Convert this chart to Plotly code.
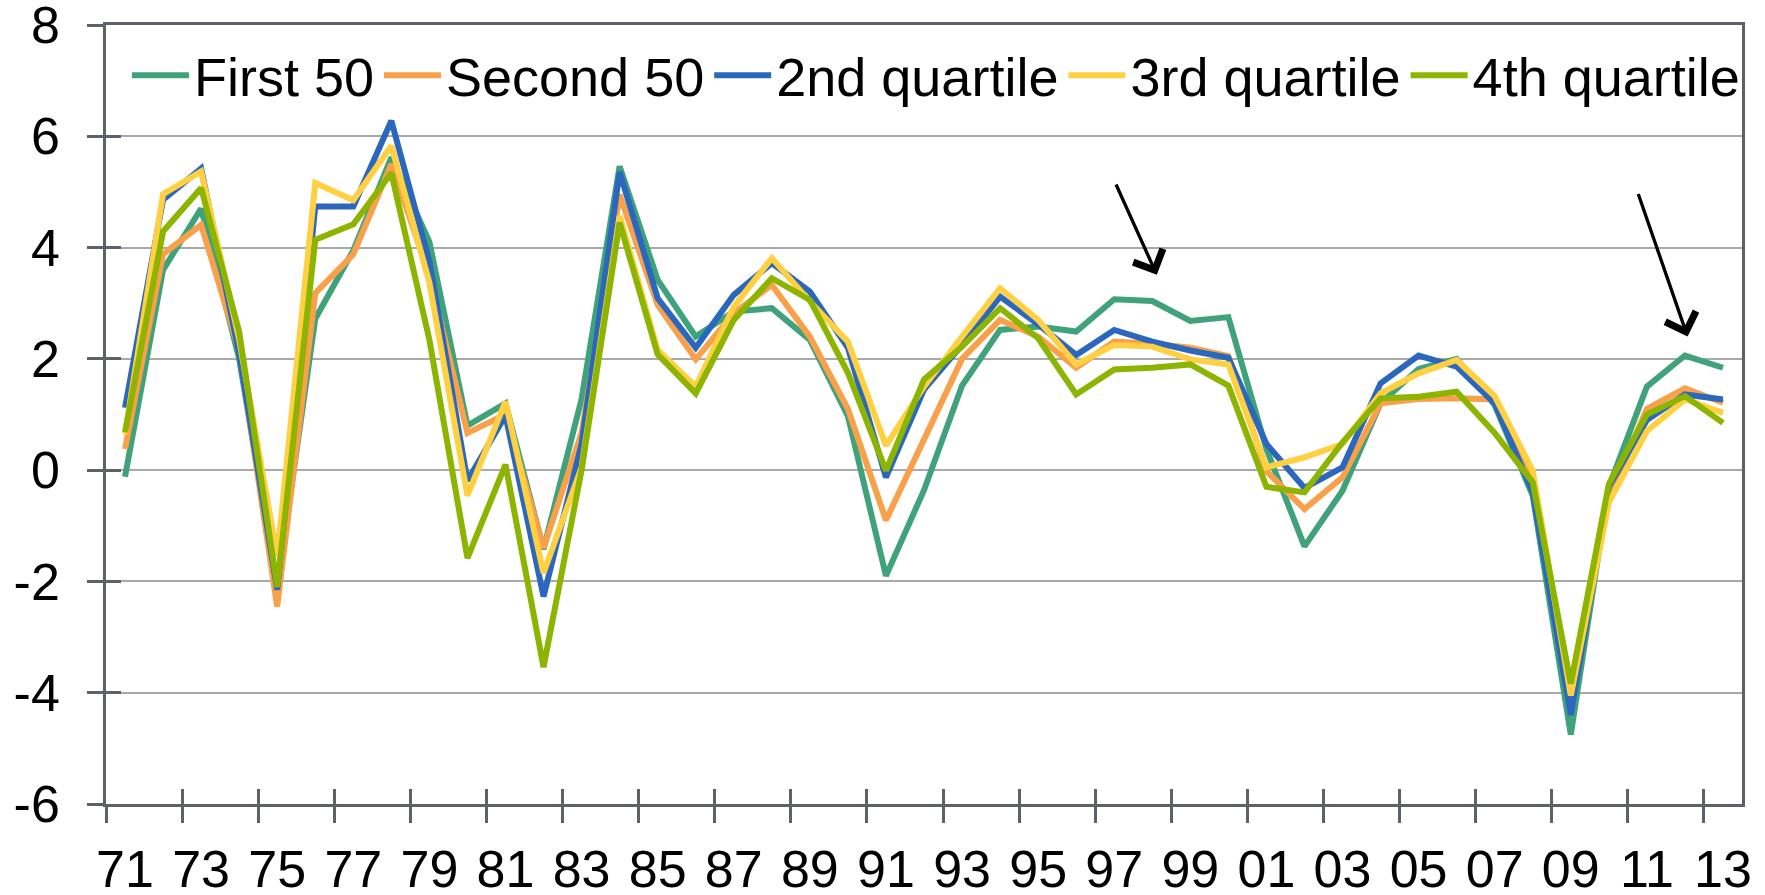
import plotly.graph_objects as go

# ---------------- data ----------------
years = list(range(1971, 2014))
label_years = list(range(1971, 2014, 2))
tick_labels = ["71", "73", "75", "77", "79", "81", "83", "85", "87", "89", "91",
               "93", "95", "97", "99", "01", "03", "05", "07", "09", "11", "13"]
y_tick_vals = [-6, -4, -2, 0, 2, 4, 6, 8]
y_tick_text = ["-6", "-4", "-2", "0", "2", "4", "6", "8"]

first_50 = [-0.12, 3.60, 4.70, 2.00, -2.10, 2.72, 3.95, 5.62, 4.10, 0.80,
            1.20, -1.42, 1.28, 5.46, 3.42, 2.40, 2.85, 2.91, 2.34, 0.97,
            -1.90, -0.36, 1.52, 2.52, 2.58, 2.49, 3.07, 3.04, 2.68, 2.75,
            0.38, -1.37, -0.37, 1.20, 1.82, 2.00, 1.17, -0.46, -4.75, -0.30,
            1.50, 2.06, 1.84]

second_50 = [0.38, 3.88, 4.41, 2.15, -2.45, 3.18, 3.88, 5.50, 3.50, 0.67,
             1.00, -1.40, 0.67, 4.95, 2.97, 1.99, 2.82, 3.33, 2.40, 1.10,
             -0.90, 0.57, 2.00, 2.70, 2.40, 1.84, 2.31, 2.27, 2.20, 2.05,
             -0.02, -0.70, -0.13, 1.20, 1.28, 1.29, 1.27, -0.16, -4.05, -0.50,
             1.10, 1.47, 1.21]

quartile_2 = [1.12, 4.86, 5.42, 2.10, -2.15, 4.74, 4.74, 6.28, 3.75, -0.19,
              0.98, -2.27, 0.47, 5.36, 3.09, 2.20, 3.15, 3.72, 3.21, 2.20,
              -0.13, 1.45, 2.25, 3.12, 2.62, 2.07, 2.52, 2.31, 2.15, 2.02,
              0.47, -0.32, 0.05, 1.56, 2.06, 1.86, 1.20, -0.40, -4.40, -0.30,
              0.90, 1.36, 1.27]

quartile_3 = [0.65, 4.96, 5.37, 2.35, -1.55, 5.16, 4.85, 5.83, 3.37, -0.46,
              1.23, -1.85, 0.05, 4.57, 2.16, 1.50, 2.94, 3.81, 3.03, 2.31,
              0.44, 1.50, 2.40, 3.27, 2.70, 1.90, 2.25, 2.22, 1.99, 1.90,
              0.05, 0.23, 0.47, 1.38, 1.74, 1.98, 1.33, -0.01, -4.05, -0.58,
              0.70, 1.27, 1.03]

quartile_4 = [0.68, 4.29, 5.07, 2.49, -2.10, 4.14, 4.42, 5.34, 2.34, -1.58,
              0.10, -3.54, 0.00, 4.45, 2.08, 1.38, 2.70, 3.45, 3.06, 1.75,
              -0.01, 1.63, 2.22, 2.91, 2.37, 1.36, 1.81, 1.84, 1.90, 1.52,
              -0.30, -0.40, 0.50, 1.29, 1.32, 1.41, 0.67, -0.22, -3.84, -0.25,
              1.00, 1.33, 0.85]

series_names = ["First 50", "Second 50", "2nd quartile", "3rd quartile", "4th quartile"]
series_values = [first_50, second_50, quartile_2, quartile_3, quartile_4]
series_colors = ["#40A27B", "#F9A04B", "#2B68BD", "#FFD142", "#8CB400"]

# arrow annotations: (tip_x, tip_y, tail_x, tail_y)
arrows = [(1998.12, 3.51, 1997.03, 5.16),
          (2012.07, 2.40, 2010.76, 4.99)]

AX = "#5E6168"
GRID = "#A7A9AE"
FONT = "Liberation Sans, Arial, Helvetica, sans-serif"

fig = go.Figure()
for name, vals, col in zip(series_names, series_values, series_colors):
    fig.add_trace(go.Scatter(x=years, y=vals, name=name, mode="lines",
                             line=dict(color=col, width=6)))

# dummy trace so that the overlay axes (inner half of the crossing ticks) are drawn
fig.add_trace(go.Scatter(x=[None], y=[None], xaxis="x2", yaxis="y2",
                         showlegend=False, hoverinfo="skip", mode="lines"))

for tx, ty, ax_, ay_ in arrows:
    fig.add_annotation(x=tx, y=ty, ax=ax_, ay=ay_, xref="x", yref="y",
                       axref="x", ayref="y", text="", showarrow=True,
                       arrowhead=4, arrowsize=1.9, arrowwidth=3.3,
                       arrowcolor="black", standoff=0)

fig.update_layout(
    width=1765, height=895,
    margin=dict(l=106, r=23, t=25, b=91, pad=0),
    plot_bgcolor="white", paper_bgcolor="white",
    font=dict(family=FONT, size=52, color="black"),
    showlegend=True,
    legend=dict(orientation="h", x=0.0128, y=0.935, xanchor="left",
                yanchor="middle", bgcolor="rgba(0,0,0,0)",
                font=dict(family=FONT, size=54, color="black"),
                itemwidth=57, tracegroupgap=0),
    xaxis=dict(range=[1970.5, 2013.5], tickmode="array", tickvals=label_years,
               ticktext=tick_labels, ticks="", showgrid=False, zeroline=False,
               showline=True, linecolor=AX, linewidth=2.5, mirror=True,
               ticklabelstandoff=18, automargin=False,
               ticklabeloverflow="allow",
               tickfont=dict(family=FONT, size=52, color="black"),
               minor=dict(tickmode="linear", tick0=1970.5, dtick=2,
                          ticks="outside", ticklen=16, tickwidth=2.5,
                          tickcolor=AX, showgrid=False)),
    yaxis=dict(range=[-6, 8], tickmode="array", tickvals=y_tick_vals,
               ticktext=y_tick_text,
               ticks="outside", ticklen=16, tickwidth=2.5, tickcolor=AX,
               showgrid=True, gridcolor=GRID, gridwidth=2, zeroline=False,
               showline=True, linecolor=AX, linewidth=2.5, mirror=True,
               ticklabelstandoff=17, automargin=False,
               ticklabeloverflow="allow",
               tickfont=dict(family=FONT, size=52, color="black")),
    xaxis2=dict(overlaying="x", anchor="y2", side="bottom",
                range=[1970.5, 2013.5], tickmode="linear", tick0=1970.5,
                dtick=2, ticks="inside", ticklen=15, tickwidth=2.5,
                tickcolor=AX, showticklabels=False, showgrid=False,
                zeroline=False, showline=False),
    yaxis2=dict(overlaying="y", anchor="x2", side="left", range=[-6, 8],
                tickmode="linear", tick0=-6, dtick=2, ticks="inside",
                ticklen=15, tickwidth=2.5, tickcolor=AX,
                showticklabels=False, showgrid=False, zeroline=False,
                showline=False),
)

fig.write_html("out.html",
               config={"displayModeBar": False},
               post_script="document.body.style.margin='0';"
                           "document.body.style.overflow='hidden';")
